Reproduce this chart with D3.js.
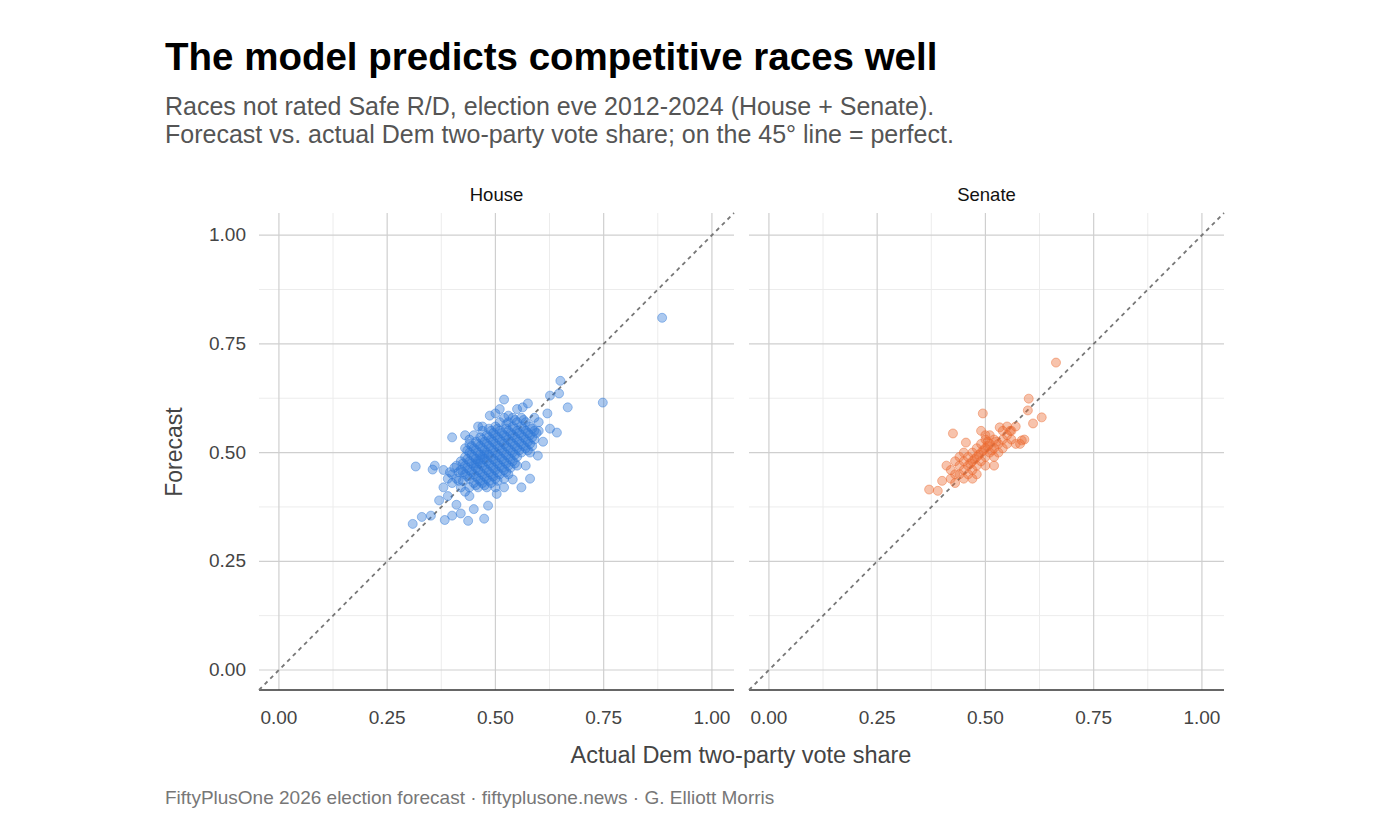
<!DOCTYPE html>
<html><head><meta charset="utf-8">
<script src="https://cdn.jsdelivr.net/npm/d3@7"></script>
<style>body{margin:0;background:#fff;font-family:"Liberation Sans",Arial,sans-serif}</style>
</head><body>
<script>
// ---- data: [actual, forecast] ----
var houseOutliers = [[0.885,0.81],[0.748,0.615],[0.316,0.468],[0.309,0.336],[0.52,0.622],[0.667,0.604],
  [0.642,0.546],[0.626,0.555],[0.61,0.525],[0.598,0.493],[0.40,0.535],[0.355,0.461],[0.483,0.378],
  [0.474,0.348],[0.437,0.343],[0.383,0.345],[0.351,0.355],[0.40,0.355],[0.503,0.405],[0.54,0.438],
  [0.487,0.585],[0.53,0.585],[0.575,0.613],[0.563,0.604],[0.626,0.631],[0.647,0.636],[0.65,0.665],
  [0.33,0.352],[0.37,0.39],[0.36,0.47],[0.38,0.46],[0.39,0.40],[0.41,0.38],[0.42,0.36],[0.45,0.37],
  [0.44,0.40],[0.38,0.42],[0.43,0.54],[0.46,0.56],[0.44,0.52],[0.58,0.44],[0.57,0.47],[0.60,0.57],
  [0.59,0.55],[0.55,0.60],[0.51,0.60],[0.50,0.59],[0.47,0.55],[0.62,0.59],[0.56,0.42],[0.52,0.42]];
var houseCore = [
  [0.42,0.46],[0.42,0.48],[0.43,0.45],[0.43,0.47],[0.43,0.49],[0.44,0.44],[0.44,0.46],[0.44,0.48],[0.44,0.50],
  [0.45,0.43],[0.45,0.45],[0.45,0.47],[0.45,0.49],[0.45,0.51],[0.46,0.44],[0.46,0.46],[0.46,0.48],[0.46,0.50],
  [0.46,0.52],[0.47,0.43],[0.47,0.45],[0.47,0.47],[0.47,0.49],[0.47,0.51],[0.47,0.53],[0.48,0.44],[0.48,0.46],
  [0.48,0.48],[0.48,0.50],[0.48,0.52],[0.49,0.45],[0.49,0.47],[0.49,0.49],[0.49,0.51],[0.49,0.53],[0.50,0.44],
  [0.50,0.46],[0.50,0.48],[0.50,0.50],[0.50,0.52],[0.50,0.54],[0.51,0.45],[0.51,0.47],[0.51,0.49],[0.51,0.51],
  [0.51,0.53],[0.51,0.55],[0.52,0.46],[0.52,0.48],[0.52,0.50],[0.52,0.52],[0.52,0.54],[0.53,0.47],[0.53,0.49],
  [0.53,0.51],[0.53,0.53],[0.53,0.55],[0.53,0.57],[0.54,0.48],[0.54,0.50],[0.54,0.52],[0.54,0.54],[0.54,0.56],
  [0.55,0.49],[0.55,0.51],[0.55,0.53],[0.55,0.55],[0.55,0.57],[0.56,0.50],[0.56,0.52],[0.56,0.54],[0.56,0.56],
  [0.57,0.51],[0.57,0.53],[0.57,0.55],[0.57,0.57],[0.58,0.52],[0.58,0.54],[0.58,0.56],[0.59,0.53],[0.59,0.58],
  [0.41,0.44],[0.41,0.47],[0.40,0.45],[0.40,0.43],[0.39,0.44],[0.42,0.42],[0.43,0.41],[0.44,0.42],[0.46,0.42],
  [0.48,0.42],[0.49,0.43],[0.50,0.42],[0.52,0.44],[0.53,0.45],[0.55,0.47],[0.43,0.51],[0.44,0.53],[0.45,0.54],
  [0.47,0.56],[0.48,0.54],[0.49,0.55],[0.50,0.56],[0.51,0.57],[0.52,0.58],[0.54,0.58],[0.56,0.58],[0.58,0.50],
  [0.60,0.55],[0.485,0.475],[0.495,0.485],[0.505,0.495],[0.515,0.505],[0.475,0.465],[0.465,0.455],[0.525,0.515],
  [0.535,0.525],[0.545,0.535],[0.455,0.475],[0.505,0.475],[0.515,0.485],[0.475,0.495],[0.525,0.495],[0.465,0.485]];
var houseCoreFill = [
  [0.425,0.455],[0.425,0.475],[0.435,0.465],[0.435,0.485],[0.435,0.445],[0.445,0.455],[0.445,0.475],[0.445,0.495],
  [0.455,0.445],[0.455,0.465],[0.455,0.485],[0.455,0.505],[0.465,0.435],[0.465,0.475],[0.465,0.495],[0.465,0.515],
  [0.475,0.445],[0.475,0.485],[0.475,0.505],[0.475,0.525],[0.485,0.435],[0.485,0.455],[0.485,0.495],[0.485,0.515],
  [0.485,0.535],[0.495,0.445],[0.495,0.465],[0.495,0.505],[0.495,0.525],[0.495,0.545],[0.505,0.455],[0.505,0.515],
  [0.505,0.535],[0.515,0.465],[0.515,0.525],[0.515,0.545],[0.525,0.475],[0.525,0.535],[0.525,0.555],[0.535,0.485],
  [0.535,0.505],[0.535,0.545],[0.545,0.495],[0.545,0.515],[0.545,0.555],[0.555,0.505],[0.555,0.525],[0.555,0.545],
  [0.565,0.515],[0.565,0.535],[0.565,0.555],[0.575,0.525],[0.575,0.545],[0.585,0.535],[0.585,0.555],[0.415,0.455],
  [0.405,0.465],[0.395,0.455],[0.415,0.435],[0.425,0.435],[0.455,0.425],[0.475,0.425],[0.505,0.435],[0.525,0.455],
  [0.535,0.465],[0.545,0.475],[0.565,0.575],[0.545,0.575],[0.525,0.565],[0.505,0.555],[0.485,0.555],[0.465,0.535],
  [0.455,0.525],[0.445,0.515],[0.435,0.505],[0.575,0.505],[0.585,0.515],[0.595,0.545]];
var senatePoints = [[0.663,0.707],[0.60,0.624],[0.598,0.597],[0.494,0.59],[0.425,0.544],[0.63,0.581],
  [0.61,0.567],[0.37,0.415],[0.39,0.412],[0.40,0.435],[0.455,0.523],[0.533,0.558],[0.557,0.55],[0.584,0.528],
  [0.41,0.47],[0.42,0.46],[0.43,0.45],[0.43,0.48],[0.44,0.47],[0.44,0.49],[0.45,0.46],[0.45,0.48],[0.45,0.50],
  [0.46,0.47],[0.46,0.49],[0.47,0.48],[0.47,0.50],[0.47,0.46],[0.48,0.47],[0.48,0.49],[0.48,0.51],[0.49,0.48],
  [0.49,0.50],[0.49,0.52],[0.50,0.49],[0.50,0.51],[0.50,0.53],[0.51,0.50],[0.51,0.52],[0.51,0.54],[0.52,0.49],
  [0.52,0.51],[0.52,0.53],[0.53,0.50],[0.53,0.52],[0.54,0.51],[0.54,0.53],[0.55,0.52],[0.55,0.54],[0.56,0.53],
  [0.57,0.52],[0.58,0.52],[0.59,0.53],[0.56,0.55],[0.55,0.56],[0.57,0.56],[0.54,0.55],[0.50,0.54],[0.49,0.55],
  [0.46,0.45],[0.44,0.45],[0.42,0.44],[0.47,0.44],[0.48,0.45],[0.50,0.47],[0.52,0.47],[0.43,0.43],[0.45,0.44],
  [0.485,0.495],[0.495,0.505],[0.505,0.515],[0.515,0.505],[0.475,0.485],[0.465,0.475],[0.525,0.525],[0.505,0.525]];
var tickVals = [0, 0.25, 0.5, 0.75, 1];
var panels = [{name:"House", pts: houseOutliers.concat(houseCore, houseCoreFill), color:"#2f78d8"},
              {name:"Senate", pts: senatePoints, color:"#ea6a30"}];

var W = 1400, H = 840;
var svg = d3.select("body").append("svg").attr("width", W).attr("height", H);
var panelTop = 213, panelBottom = 690, pw = 475, lefts = [259, 749];
var dom = [-0.046, 1.051];
var y = d3.scaleLinear().domain(dom).range([panelBottom, panelTop]);

svg.append("text").attr("x",165).attr("y",70).text("The model predicts competitive races well")
  .attr("font-size",38.5).attr("font-weight","bold").attr("fill","#000");
svg.append("text").attr("x",165).attr("y",115).text("Races not rated Safe R/D, election eve 2012-2024 (House + Senate).")
  .attr("font-size",25).attr("fill","#555");
svg.append("text").attr("x",165).attr("y",143).text("Forecast vs. actual Dem two-party vote share; on the 45° line = perfect.")
  .attr("font-size",25).attr("fill","#555");

panels.forEach(function(p, i) {
  var x = d3.scaleLinear().domain(dom).range([lefts[i], lefts[i] + pw]);
  var g = svg.append("g");
  var minor = [0.125, 0.375, 0.625, 0.875];
  minor.forEach(function(v){
    g.append("line").attr("x1",x(v)).attr("x2",x(v)).attr("y1",panelTop).attr("y2",panelBottom).attr("stroke","#ececec");
    g.append("line").attr("x1",x.range()[0]).attr("x2",x.range()[1]).attr("y1",y(v)).attr("y2",y(v)).attr("stroke","#ececec");
  });
  tickVals.forEach(function(v){
    g.append("line").attr("x1",x(v)).attr("x2",x(v)).attr("y1",panelTop).attr("y2",panelBottom).attr("stroke","#cfcfcf").attr("stroke-width",1.2);
    g.append("line").attr("x1",x.range()[0]).attr("x2",x.range()[1]).attr("y1",y(v)).attr("y2",y(v)).attr("stroke","#cfcfcf").attr("stroke-width",1.2);
    g.append("text").attr("x",x(v)).attr("y",panelBottom+34).attr("text-anchor","middle").attr("font-size",19).attr("fill","#444")
      .text(d3.format(".2f")(v));
  });
  g.append("line").attr("x1",x.range()[0]).attr("x2",x.range()[1]).attr("y1",panelBottom).attr("y2",panelBottom).attr("stroke","#333").attr("stroke-width",1.5);
  g.append("line").attr("x1",x(dom[0])).attr("y1",y(dom[0])).attr("x2",x(dom[1])).attr("y2",y(dom[1]))
    .attr("stroke","#777").attr("stroke-width",1.8).attr("stroke-dasharray","4,4");
  g.selectAll("circle").data(p.pts).enter().append("circle")
    .attr("cx", function(d){ return x(d[0]); }).attr("cy", function(d){ return y(d[1]); }).attr("r",4.5)
    .attr("fill", p.color).attr("fill-opacity",0.4).attr("stroke", p.color).attr("stroke-opacity",0.45);
  g.append("text").attr("x", lefts[i] + pw/2).attr("y",201).attr("text-anchor","middle").attr("font-size",18.5).attr("fill","#111").text(p.name);
});

tickVals.forEach(function(v){
  svg.append("text").attr("x",246).attr("y",y(v)+6).attr("text-anchor","end").attr("font-size",19).attr("fill","#444").text(d3.format(".2f")(v));
});
svg.append("text").attr("transform","translate(182,452) rotate(-90)").attr("text-anchor","middle").attr("font-size",23).attr("fill","#444").text("Forecast");
svg.append("text").attr("x",741).attr("y",763).attr("text-anchor","middle").attr("font-size",23.5).attr("fill","#444").text("Actual Dem two-party vote share");
svg.append("text").attr("x",165).attr("y",804).attr("font-size",19).attr("fill","#777").text("FiftyPlusOne 2026 election forecast · fiftyplusone.news · G. Elliott Morris");
</script>
</body></html>
